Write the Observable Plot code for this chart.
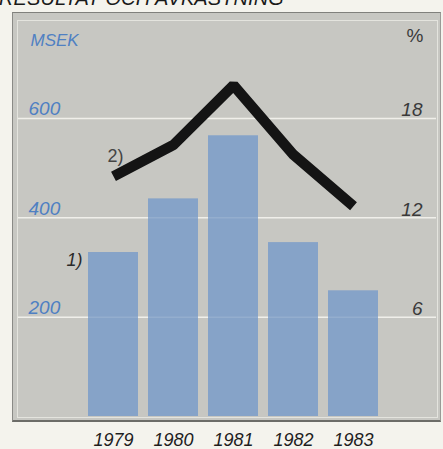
<!DOCTYPE html>
<html>
<head>
<meta charset="utf-8">
<script src="https://cdn.jsdelivr.net/npm/d3@7"></script>
<script src="https://cdn.jsdelivr.net/npm/@observablehq/plot@0.6"></script>
<style>
  html, body { margin: 0; padding: 0; background: #f4f3ed; }
  #wrap { position: relative; width: 443px; height: 449px; overflow: hidden; background: #f4f3ed; font-family: "Liberation Sans", Arial, sans-serif; }
  #title { position: absolute; left: -1px; top: -12px; font: italic 20px/20px "Liberation Sans", Arial, sans-serif; color: #1a1a1a; white-space: nowrap; letter-spacing: 0.1px; }
  #panel { position: absolute; left: 12px; top: 12px; width: 427px; height: 407px; background: #c7c7c2; border-top: 1.5px solid #80807c; border-left: 1.5px solid #8a8a86; border-right: 1px solid #9a9a96; border-bottom: 2px solid #6c6c68; }
  #inner { position: absolute; left: 17px; top: 20px; width: 419px; height: 396px; border: 1px solid #e4e4de; }
  .layer { position: absolute; left: 0; top: 0; }
</style>
</head>
<body>
<div id="wrap">
  <div id="title">RESULTAT OCH AVKASTNING</div>
  <div id="panel"></div>
  <div id="inner"></div>
  <div id="bars" class="layer"></div>
  <div id="line" class="layer"></div>
</div>
<script>
// Data
const years = ["1979", "1980", "1981", "1982", "1983"];
const resultat = [330, 438, 565, 350, 253];          // MSEK (bars)
const avkastning = [14.5, 16.4, 20.0, 15.8, 12.7];   // % (line)
const leftTicks = [200, 400, 600];
const rightTicks = [6, 12, 18];
const leftUnit = "MSEK";
const rightUnit = "%";
const barNote = "1)";
const lineNote = "2)";

const barData = years.map((y, i) => ({year: y, value: resultat[i]}));
const lineData = years.map((y, i) => ({year: y, value: avkastning[i]}));

const W = 443, H = 449;
const common = {
  width: W, height: H,
  marginTop: 20, marginBottom: 33, marginLeft: 17, marginRight: 6,
  style: {background: "transparent", fontFamily: "'Liberation Sans', Arial, sans-serif", overflow: "visible"},
  x: {type: "band", domain: years, paddingInner: 0.1667, paddingOuter: 1.083, align: 0.546, axis: null}
};

const leftMax = 797;
const rightMax = leftMax * rightTicks[2] / leftTicks[2];

const bars = Plot.plot({
  ...common,
  y: {domain: [0, leftMax], axis: null},
  marks: [
    Plot.ruleY(leftTicks, {stroke: "#eeede7", strokeWidth: 1.5, insetLeft: 1, insetRight: 1}),
    Plot.barY(barData, {x: "year", y: "value", fill: "#86a3c8"}),
    Plot.ruleY(leftTicks, {stroke: "#ffffff", strokeOpacity: 0.12, strokeWidth: 1.5, insetLeft: 1, insetRight: 1}),
    Plot.text(leftTicks, {y: d => d, text: d => String(d), frameAnchor: "left", textAnchor: "start", lineAnchor: "bottom", dx: 11, dy: -3, fill: "#4f80c2", fontSize: 19, fontStyle: "italic"}),
    Plot.text([leftUnit], {frameAnchor: "top-left", textAnchor: "start", lineAnchor: "top", dx: 13, dy: 13, fill: "#4f80c2", fontSize: 17, fontStyle: "italic"}),
    Plot.text(barData.slice(0, 1), {x: "year", y: "value", text: () => barNote, textAnchor: "end", lineAnchor: "middle", dx: -31, dy: 8, fill: "#2a2a2a", fontSize: 18, fontStyle: "italic"}),
    Plot.text(years, {x: d => d, text: d => d, frameAnchor: "bottom", lineAnchor: "bottom", dy: 29, fill: "#1e1e1e", fontSize: 18, fontStyle: "italic"})
  ]
});
document.getElementById("bars").append(bars);

const line = Plot.plot({
  ...common,
  y: {domain: [0, rightMax], axis: null},
  marks: [
    Plot.line(lineData, {x: "year", y: "value", stroke: "#141414", strokeWidth: 10.5, strokeLinejoin: "miter", strokeLinecap: "butt"}),
    Plot.text(rightTicks, {y: d => d, text: d => String(d), frameAnchor: "right", textAnchor: "end", lineAnchor: "bottom", dx: -15, dy: -2, fill: "#3a3a3a", fontSize: 19, fontStyle: "italic"}),
    Plot.text([rightUnit], {frameAnchor: "top-right", textAnchor: "end", lineAnchor: "top", dx: -14, dy: 8, fill: "#3a3a3a", fontSize: 19}),
    Plot.text(lineData.slice(0, 1), {x: "year", y: "value", text: () => lineNote, textAnchor: "middle", lineAnchor: "middle", dx: 2, dy: -20, fill: "#444444", fontSize: 18})
  ]
});
document.getElementById("line").append(line);
</script>
</body>
</html>
